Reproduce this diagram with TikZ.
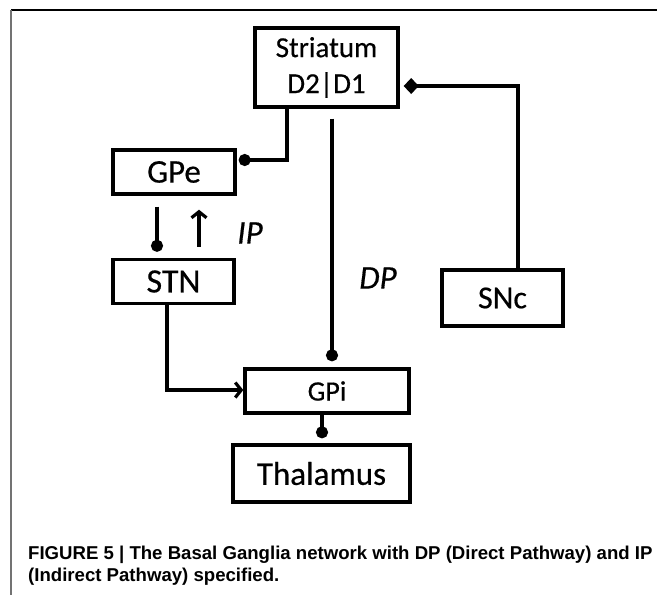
\documentclass[tikz,border=0pt]{standalone}
\usepackage{fontspec}
\setmainfont{Carlito}[FakeBold=0.5]
\newfontfamily\capfont{Liberation Sans}
\usetikzlibrary{arrows.meta,calc}
\tikzset{
  box/.style={draw, line width=3.4pt, inner sep=0pt, align=center},
  conn/.style={line width=3.4pt},
  dotend/.style={conn, -{Circle[length=12pt,width=12pt]}},
  arrend/.style={conn, -{Straight Barb[length=6pt,width=15pt,line width=3.2pt]}},
  diaend/.style={conn, -{Diamond[length=15pt,width=16pt]}},
  lab/.style={font=\fontsize{33}{36}\selectfont\itshape, inner sep=0pt},
  capt/.style={font=\capfont\bfseries\fontsize{18.6}{22}\selectfont, anchor=base west, inner sep=0pt}
}
\begin{document}
\begin{tikzpicture}[x=1pt,y=-1pt]
\useasboundingbox (0,0) rectangle (657,595);
% frame
\draw[line width=1.5pt] (11,10) coordinate (tl) -- (657,10) coordinate (tr);
\draw[line width=2pt, black!55] (tl) -- (11,595) coordinate (bl);
% boxes
\node[box, minimum width=143pt, minimum height=79pt, font=\fontsize{29}{36}\selectfont] (str) at (326.5,67.5) {Striatum\\D2|D1};
\node[box, minimum width=122pt, minimum height=44pt, font=\fontsize{33}{36}\selectfont] (gpe) at (174,172) {GPe};
\node[box, minimum width=121pt, minimum height=44pt, font=\fontsize{34}{36}\selectfont] (stn) at (173.5,281.5) {STN};
\node[box, minimum width=121pt, minimum height=56pt, font=\fontsize{32}{36}\selectfont] (snc) at (502.5,298) {SNc};
\node[box, minimum width=164pt, minimum height=44pt, font=\fontsize{28}{32}\selectfont] (gpi) at (327,391) {GPi};
\node[box, minimum width=177pt, minimum height=57pt, font=\fontsize{33}{36}\selectfont] (thal) at (321.5,473.5) {Thalamus};
% labels
\node[lab] (ip) at (250,233) {IP};
\node[lab] (dp) at (378,278) {DP};
% connectors
\draw[dotend, shorten >=2pt] ([xshift=-39.5pt]str.south) |- ([yshift=12pt]gpe.east);
\draw[dotend, shorten >=6pt] ([xshift=5.5pt,yshift=-10pt]str.south) -- ([xshift=5.5pt]str.south |- gpi.north);
\draw[diaend, shorten >=4pt] ([xshift=15.5pt]snc.north) |- ([yshift=-18.5pt]str.east);
\draw[dotend, shorten >=6pt] ([xshift=-17pt,yshift=-11pt]gpe.south) -- ([xshift=-17pt]gpe.south |- stn.north);
\draw[arrend, shorten >=14pt] ([xshift=25.5pt,yshift=11pt]stn.north) -- ([xshift=25.5pt]stn.north |- gpe.south);
\draw[arrend] ([xshift=-6.5pt]stn.south) |- ([yshift=1pt]gpi.west);
\draw[dotend, shorten >=5pt] ([xshift=-5pt]gpi.south) -- ([xshift=-5pt]gpi.south |- thal.north);
% caption
\node[capt] (cap1) at (28,559) {FIGURE 5 | The Basal Ganglia network with DP (Direct Pathway) and IP};
\node[capt] (cap2) at (28,581) {(Indirect Pathway) specified.};
\end{tikzpicture}
\end{document}
